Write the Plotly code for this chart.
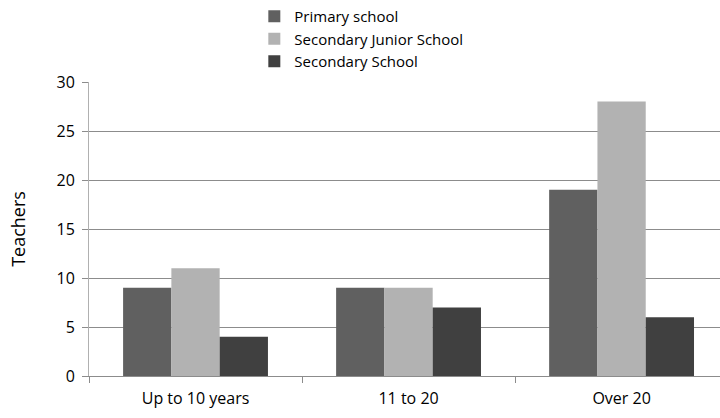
import plotly.graph_objects as go

categories = ["Up to 10 years", "11 to 20", "Over 20"]
primary = [9, 9, 19]
secondary_junior = [11, 9, 28]
secondary = [4, 7, 6]

series = [
    ("Primary school", primary, "#606060"),
    ("Secondary Junior School", secondary_junior, "#b2b2b2"),
    ("Secondary School", secondary, "#404040"),
]

fig = go.Figure()
for name, vals, color in series:
    fig.add_trace(go.Bar(name=name, x=categories, y=vals, marker_color=color,
                         marker_line_width=0))

fig.update_layout(
    width=720, height=418,
    margin=dict(l=89, r=0, t=82, b=42, autoexpand=False),
    paper_bgcolor="white", plot_bgcolor="white",
    barmode="group", bargap=0.32, bargroupgap=0,
    font=dict(family="Open Sans, Liberation Sans, sans-serif", size=15, color="#000"),
    legend=dict(orientation="v", x=0.262, xanchor="left", y=1.0, yanchor="top",
                yref="container", font=dict(size=15), tracegroupgap=0,
                itemwidth=30, bgcolor="rgba(0,0,0,0)"),
    showlegend=True,
)

fig.update_xaxes(
    range=[-0.5, 2.462], showline=True, linecolor="#8c8c8c", linewidth=1,
    ticks="outside", tickson="boundaries", ticklen=6, tickcolor="#8c8c8c",
    showgrid=False, tickfont=dict(size=16), ticklabelstandoff=8, automargin=False,
)
fig.update_yaxes(
    range=[0, 30], dtick=5, showline=True, linecolor="#b0b0b0", linewidth=1,
    ticks="outside", ticklen=6, tickcolor="#8c8c8c",
    showgrid=True, gridcolor="#8c8c8c", gridwidth=1, zeroline=False,
    tickfont=dict(size=16), ticklabelstandoff=4, automargin=False,
    title=dict(text="Teachers", font=dict(size=18), standoff=26),
)

fig.write_html("out.html")
